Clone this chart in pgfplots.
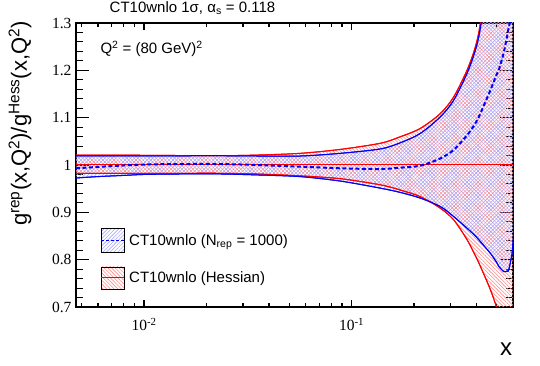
\documentclass[border=0pt]{standalone}
\usepackage{fontspec}
\setmainfont{Liberation Sans}
\newfontfamily\serifnum{Liberation Serif}
\usepackage{pgfplots}
\usepackage{pgfplotstable}
\pgfplotsset{compat=1.18}
\usepgfplotslibrary{fillbetween}
\usetikzlibrary{patterns.meta}

% x, Hessian upper/lower, replica upper/lower, replica central
\pgfplotstableread{
x       ru      rl      bu      bl      bc
0.0047  1.021   0.9825  1.0195  0.9725  0.993
0.006   1.021   0.9825  1.0195  0.9755  0.996
0.008   1.021   0.9825  1.0195  0.978   0.999
0.010   1.0205  0.9825  1.0195  0.980   1.001
0.015   1.020   0.9825  1.0195  0.981   1.002
0.0234  1.0196  0.9825  1.0196  0.981   1.002
0.035   1.021   0.981   1.019   0.979   1.000
0.0568  1.0247  0.977   1.019   0.9754  0.9965
0.0885  1.033   0.971   1.0247  0.966   0.993
0.1379  1.046   0.958   1.034   0.951   0.9915
0.172   1.0598  0.947   1.047   0.942   0.9944
0.2149  1.0775  0.933   1.067   0.930   0.9986
0.2683  1.109   0.9085  1.102   0.912   1.014
0.3108  1.144   0.884   1.137   0.891   1.032
0.3606  1.2007  0.842   1.194   0.8662  1.063
0.3954  1.25    0.808   1.243   0.850   1.088
0.4179  1.30    0.7858  1.29    0.838   1.109
0.467   1.45    0.7365  1.43    0.8133  1.158
0.4991  1.55    0.70    1.53    0.795   1.19
0.5119  1.60    0.68    1.58    0.786   1.20
0.5411  1.70    0.63    1.68    0.775   1.237
0.5619  1.78    0.60    1.76    0.776   1.272
0.5719  1.82    0.58    1.80    0.778   1.29
0.5938  1.90    0.54    1.88    0.813   1.32
0.6026  1.95    0.52    1.92    0.848   1.34
}\bands

\tikzset{
  redhatch/.style={pattern={Lines[angle=-45,distance=2.6pt,line width=0.6pt]}, pattern color=red!45},
  bluehatch/.style={pattern={Lines[angle=45,distance=2.6pt,line width=0.6pt]}, pattern color=blue!35},
}

\begin{document}
\begin{tikzpicture}
\begin{axis}[
    at={(0,0)}, anchor=south west,
    scale only axis, width=437pt, height=284pt,
    xmode=log,
    xmin=0.0047, xmax=0.6, ymin=0.7, ymax=1.3,
    axis line style={line width=1.2pt},
    tick align=inside,
    tick style={black, line width=1.1pt},
    xtick={0.01,0.1},
    xticklabels={10\textsuperscript{-2},10\textsuperscript{-1}},
    minor xtick={0.005,0.006,0.007,0.008,0.009,0.02,0.03,0.04,0.05,0.06,0.07,0.08,0.09,0.2,0.3,0.4,0.5},
    ytick={0.7,0.8,0.9,1,1.1,1.2,1.3},
    yticklabels={0.7,0.8,0.9,1,1.1,1.2,1.3},
    minor y tick num=4,
    xtick style={/pgfplots/major tick length=7pt, /pgfplots/minor tick length=4pt},
    ytick style={/pgfplots/major tick length=13pt, /pgfplots/minor tick length=7pt},
    tick label style={font=\serifnum\fontsize{15.5}{18}\selectfont},
    xticklabel style={yshift=-8pt},
    yticklabel style={xshift=-1pt},
    xlabel={x},
    xlabel style={at={(axis description cs:0.984,-0.148)}, anchor=center, font=\fontsize{24}{28}\selectfont},
    ylabel={g\textsuperscript{rep}(x,Q\textsuperscript{2})/g\textsuperscript{Hess}(x,Q\textsuperscript{2})},
    ylabel style={at={(axis description cs:-0.128,0.646)}, anchor=center, font=\fontsize{22}{26}\selectfont},
    legend cell align=left,
    legend style={at={(axis description cs:0.049,0.285)}, anchor=north west,
        draw=none, fill=none, row sep=14pt, column sep=2pt,
        font=\fontsize{15}{18}\selectfont},
]
\addplot[name path=ru, red, line width=1pt, smooth, forget plot] table[x=x,y=ru]{\bands};
\addplot[name path=rl, red, line width=1pt, smooth, forget plot] table[x=x,y=rl]{\bands};
\addplot[name path=bu, blue, line width=1pt, smooth, forget plot] table[x=x,y=bu]{\bands};
\addplot[name path=bl, blue, line width=1pt, smooth, forget plot] table[x=x,y=bl]{\bands};
\addplot[redhatch, forget plot] fill between[of=ru and rl];
\addplot[bluehatch, forget plot] fill between[of=bu and bl];
\addplot[red, line width=1pt, smooth, forget plot] table[x=x,y=ru]{\bands};
\addplot[red, line width=1pt, smooth, forget plot] table[x=x,y=rl]{\bands};
\addplot[blue, line width=1pt, smooth, forget plot] table[x=x,y=bu]{\bands};
\addplot[blue, line width=1pt, smooth, forget plot] table[x=x,y=bl]{\bands};
\addplot[red, line width=1pt, forget plot] coordinates {(0.0047,1) (0.6,1)};
\addplot[blue, line width=2pt, dash pattern=on 4pt off 2.5pt, smooth, forget plot] table[x=x,y=bc]{\bands};

\addlegendimage{legend image code/.code={
    \fill[bluehatch] (0pt,-12pt) rectangle (23pt,12pt);
    \draw[blue, line width=1.6pt, dash pattern=on 3pt off 2pt] (0pt,0pt) -- (23pt,0pt);}}
\addlegendentry{CT10wnlo (N\textsubscript{rep} = 1000)}
\addlegendimage{legend image code/.code={
    \fill[redhatch] (0pt,-11pt) rectangle (23pt,11pt);
    \draw[red, line width=1pt] (0pt,0pt) -- (23pt,0pt);}}
\addlegendentry{CT10wnlo (Hessian)}

\node[anchor=base west, font=\fontsize{15}{18}\selectfont] at (axis description cs:0.048,0.8933)
    {Q\textsuperscript{2} = (80 GeV)\textsuperscript{2}};
\end{axis}
\node[anchor=base, font=\fontsize{15}{18}\selectfont] at (116.5pt,294.3pt)
    {CT10wnlo 1σ, α\textsubscript{s} = 0.118};
\pgfresetboundingbox
\path[use as bounding box] (-76pt,-59pt) rectangle (464pt,307pt);
\end{tikzpicture}
\end{document}
